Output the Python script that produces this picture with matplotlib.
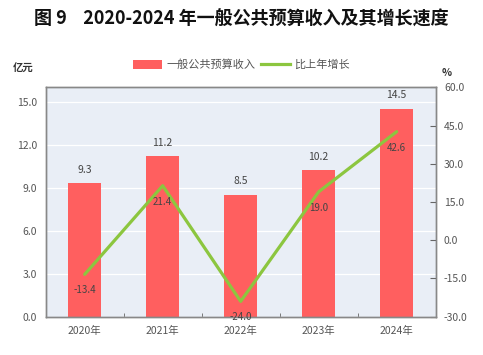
import matplotlib
matplotlib.use('Agg')
from matplotlib import pyplot as plt
from matplotlib.patches import Patch
from matplotlib.lines import Line2D

plt.rcParams['font.family'] = ['Noto Sans CJK SC', 'DejaVu Sans']

years = ['2020年', '2021年', '2022年', '2023年', '2024年']
revenue = [9.3, 11.2, 8.5, 10.2, 14.5]
growth = [-13.4, 21.4, -24.0, 19.0, 42.6]
leftTicks = [0.0, 3.0, 6.0, 9.0, 12.0, 15.0]
rightTicks = [-30.0, -15.0, 0.0, 15.0, 30.0, 45.0, 60.0]

barColor = '#FF5F5F'
lineColor = '#8CC63F'
textColor = '#555555'
labelColor = '#444444'

fig = plt.figure(figsize=(4.83, 3.55), dpi=100)
ax = fig.add_axes([0.0946, 0.108, 0.8074, 0.646])
ax.set_facecolor('#E9EEF6')
ax2 = ax.twinx()

x = list(range(len(years)))
ax.bar(x, revenue, width=0.42, color=barColor, zorder=2)
ax.set_xlim(-0.5, len(years) - 0.5)
ax.set_ylim(0, 16)
ax.set_yticks(leftTicks)
ax.set_yticklabels([f'{v:.1f}' for v in leftTicks])
ax.grid(axis='y', color='white', linewidth=0.9, zorder=1)
ax.set_axisbelow(True)
ax.tick_params(axis='y', length=0, labelsize=7.5, labelcolor=textColor, pad=6)

ax.set_xticks(x)
ax.set_xticklabels(years)
ax.set_xticks([i + 0.5 for i in x[:-1]], minor=True)
ax.tick_params(axis='x', which='major', length=0, labelsize=7.5, labelcolor=textColor, pad=7)
ax.tick_params(axis='x', which='minor', direction='in', length=3, color='#666666')

for i, v in enumerate(revenue):
    ax.annotate(f'{v:.1f}', (i, v), xytext=(0, 6), textcoords='offset points',
                ha='center', va='bottom', fontsize=7.5, color=labelColor)

ax2.plot(x, growth, color=lineColor, linewidth=2.3, zorder=3, solid_capstyle='round')
ax2.set_ylim(-30, 60)
ax2.set_yticks(rightTicks)
ax2.set_yticklabels([f'{v:.1f}' for v in rightTicks])
ax2.tick_params(axis='y', direction='in', length=4, color='#666666', labelsize=7.5,
                labelcolor=textColor, pad=6)
for i, v in enumerate(growth):
    ax2.annotate(f'{v:.1f}', (i, v), xytext=(0, -8), textcoords='offset points',
                 ha='center', va='top', fontsize=7, color=labelColor)

for a in (ax, ax2):
    for s in a.spines.values():
        s.set_color('#888888')
        s.set_linewidth(1.0)

fig.text(0.5, 0.945, '图 9    2020-2024 年一般公共预算收入及其增长速度', ha='center', va='center',
         fontsize=13, fontweight='bold', color='#111111')
fig.text(0.027, 0.805, '亿元', ha='left', va='center', fontsize=7.5, color='#333333', fontweight='bold')
fig.text(0.915, 0.795, '%', ha='left', va='center', fontsize=7.5, color='#333333', fontweight='bold')

handles = [Patch(facecolor=barColor, edgecolor='none'),
           Line2D([0], [0], color=lineColor, linewidth=2.3)]
fig.legend(handles, ['一般公共预算收入', '比上年增长'], loc='center', bbox_to_anchor=(0.5, 0.817),
           ncol=2, frameon=False, fontsize=8, labelcolor=textColor, handlelength=2.6,
           handleheight=0.9, columnspacing=0.5, handletextpad=0.4)

fig.savefig('out.png', dpi=100)
